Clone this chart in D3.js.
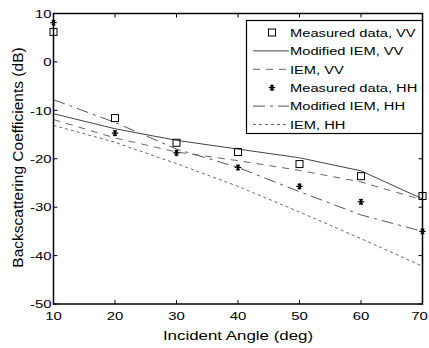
<!DOCTYPE html>
<html>
<head>
<meta charset="utf-8">
<script src="https://cdn.jsdelivr.net/npm/d3@7"></script>
<style>
  body { margin: 0; background: #fff; }
  svg text { font-family: "Liberation Sans", Arial, sans-serif; fill: #000; }
</style>
</head>
<body>
<div id="chart"></div>
<script>
// ---- data ----
var angles = [10, 20, 30, 40, 50, 60, 70];
var measuredVV = [6.2, -11.6, -16.7, -18.6, -21.1, -23.6, -27.7];
var measuredHH = [8.1, -14.7, -18.8, -21.8, -25.7, -28.9, -35.0];
var modIemVV = [-10.7, -13.8, -16.2, -18.0, -19.8, -22.5, -28.3];
var iemVV = [-11.9, -15.7, -18.6, -20.4, -22.4, -24.8, -28.5];
var modIemHH = [-7.8, -12.5, -18.0, -21.8, -26.8, -31.6, -35.0];
var iemHH = [-13.1, -16.6, -21.0, -25.7, -31.0, -36.5, -42.2];
var xTicks = [10, 20, 30, 40, 50, 60, 70];
var yTicks = [-50, -40, -30, -20, -10, 0, 10];

var W = 429, H = 348;
var margin = {left: 53.5, right: 6.5, top: 13.5, bottom: 44};
var stretch = 1.3; // horizontal text looks wide in the picture

var svg = d3.select('#chart').append('svg')
  .attr('width', W)
  .attr('height', H);

var x = d3.scaleLinear().domain([10, 70]).range([margin.left, W - margin.right]);
var y = d3.scaleLinear().domain([-50, 10]).range([H - margin.bottom, margin.top]);

function wideText(sel, tx, ty, str, size, anchor){
  return sel.append('text')
    .attr('transform', 'translate(' + tx + ',' + ty + ') scale(' + stretch + ',1)')
    .attr('text-anchor', anchor || 'start')
    .style('font-size', size + 'px')
    .text(str);
}

// ticks, inward, on all four sides
var tl = 4;
var g = svg.append('g').attr('stroke', '#000').attr('stroke-width', 1);
xTicks.forEach(function(t){
  g.append('line').attr('x1', x(t)).attr('x2', x(t)).attr('y1', y(-50)).attr('y2', y(-50) - tl);
  g.append('line').attr('x1', x(t)).attr('x2', x(t)).attr('y1', y(10)).attr('y2', y(10) + tl);
});
yTicks.forEach(function(t){
  g.append('line').attr('x1', x(10)).attr('x2', x(10) + tl).attr('y1', y(t)).attr('y2', y(t));
  g.append('line').attr('x1', x(70)).attr('x2', x(70) - tl).attr('y1', y(t)).attr('y2', y(t));
});

xTicks.forEach(function(t){
  // last label is pushed in a little so it stays on the page
  var tx = Math.min(x(t), W - 9.5);
  wideText(svg, tx, y(-50) + 15.5, t, 11.5, 'middle');
});
yTicks.forEach(function(t){
  wideText(svg, x(10) - 2, y(t) + 4.2, t, 11.5, 'end');
});

wideText(svg, (x(10) + x(70)) / 2, 339.5, 'Incident Angle (deg)', 13, 'middle');

svg.append('text')
  .attr('transform', 'translate(22.5,' + 157.5 + ') rotate(-90)')
  .attr('text-anchor', 'middle')
  .style('font-size', '15.5px')
  .text('Backscattering Coefficients (dB)');

// ---- lines ----
var series = [
  {name: 'Measured data, VV', vals: measuredVV, marker: 'square'},
  {name: 'Modified IEM, VV', vals: modIemVV, dash: null, color: '#444'},
  {name: 'IEM, VV', vals: iemVV, dash: '7,6', color: '#666'},
  {name: 'Measured data, HH', vals: measuredHH, marker: 'star'},
  {name: 'Modified IEM, HH', vals: modIemHH, dash: '12,5,3,5', color: '#555'},
  {name: 'IEM, HH', vals: iemHH, dash: '3,3', color: '#666'}
];

var line = d3.line()
  .x(function(d, i){ return x(angles[i]); })
  .y(function(d){ return y(d); });

series.filter(function(s){ return !s.marker; }).forEach(function(s){
  svg.append('path')
    .attr('d', line(s.vals))
    .attr('fill', 'none')
    .attr('stroke', s.color)
    .attr('stroke-width', 1)
    .attr('stroke-dasharray', s.dash);
});

function drawMarker(sel, type, cx, cy){
  if (type === 'square') {
    sel.append('rect')
      .attr('x', cx - 3.5).attr('y', cy - 3.5)
      .attr('width', 7).attr('height', 7)
      .attr('fill', 'none').attr('stroke', '#000').attr('stroke-width', 1);
  } else {
    var r = 3.2, p = '';
    [0, 60, 120].forEach(function(a){
      var rad = a * Math.PI / 180;
      p += 'M' + (cx - r * Math.cos(rad)) + ',' + (cy - r * Math.sin(rad)) +
           'L' + (cx + r * Math.cos(rad)) + ',' + (cy + r * Math.sin(rad));
    });
    p += 'M' + cx + ',' + (cy - r) + 'L' + cx + ',' + (cy + r);
    sel.append('path').attr('d', p).attr('stroke', '#000').attr('stroke-width', 1.2);
  }
}

series.filter(function(s){ return s.marker; }).forEach(function(s){
  s.vals.forEach(function(v, i){
    drawMarker(svg, s.marker, x(angles[i]), y(v));
  });
});

// axes box
svg.append('rect')
  .attr('x', x(10)).attr('y', y(10))
  .attr('width', x(70) - x(10)).attr('height', y(-50) - y(10))
  .attr('fill', 'none').attr('stroke', '#000').attr('stroke-width', 1.5);

// ---- legend ----
var lx = 246.5, ly = 20.5, lw = 176, lh = 113;
var leg = svg.append('g');
leg.append('rect')
  .attr('x', lx).attr('y', ly).attr('width', lw).attr('height', lh)
  .attr('fill', '#fff').attr('stroke', '#000').attr('stroke-width', 1.2);

series.forEach(function(s, i){
  var cy = ly + 12 + i * 18.4;
  if (s.marker) {
    drawMarker(leg, s.marker, 272, cy);
  } else {
    leg.append('line')
      .attr('x1', 253).attr('x2', 289).attr('y1', cy).attr('y2', cy)
      .attr('stroke', s.color).attr('stroke-width', 1)
      .attr('stroke-dasharray', s.dash);
  }
  wideText(leg, 290, cy + 4.2, s.name, 11.3, 'start');
});
</script>
</body>
</html>
